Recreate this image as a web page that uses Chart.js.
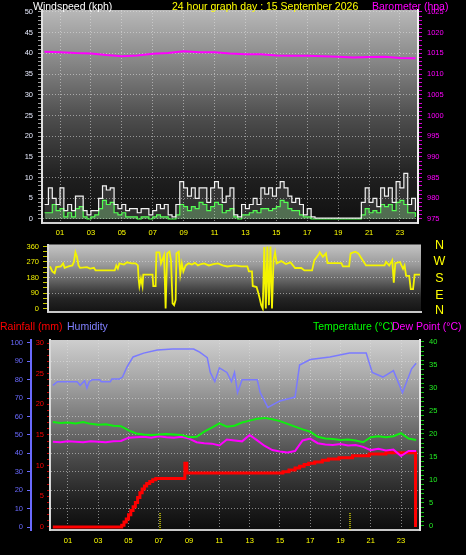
<!DOCTYPE html>
<html><head><meta charset="utf-8">
<script src="https://cdn.jsdelivr.net/npm/chart.js@4/dist/chart.umd.min.js"></script>
<style>
html,body{margin:0;padding:0;background:#000;}
#wrap{position:relative;width:466px;height:555px;overflow:hidden;background:#000;font-family:'Liberation Sans',Arial,sans-serif;}
canvas{position:absolute;left:0;}
.t{position:absolute;font-size:10.5px;white-space:nowrap;line-height:1;}
.d{position:absolute;left:432px;width:15px;text-align:center;font-size:12.5px;line-height:1;color:#ffff00;}
</style></head><body>
<div id="wrap">
<canvas id="c1" width="466" height="240" style="top:0px"></canvas>
<canvas id="c2" width="466" height="84" style="top:236px"></canvas>
<canvas id="c3" width="466" height="235" style="top:320px"></canvas>
<span class="t" style="left:33px;top:1px;color:#ffffff">Windspeed (kph)</span>
<span class="t" style="left:172px;top:1px;color:#ffff00">24 hour graph day : 15 September 2026</span>
<span class="t" style="left:372px;top:1px;color:#ff00ff">Barometer (hpa)</span>
<span class="d" style="top:239px">N</span>
<span class="d" style="top:255px">W</span>
<span class="d" style="top:272px">S</span>
<span class="d" style="top:289px">E</span>
<span class="d" style="top:304px">N</span>
<span class="t" style="left:0px;top:321px;color:#ff0000">Rainfall (mm)</span>
<span class="t" style="left:67px;top:321px;color:#8080ff">Humidity</span>
<span class="t" style="left:313px;top:321px;color:#00ff00">Temperature (°C)</span>
<span class="t" style="left:392px;top:321px;color:#ff00ff">Dew Point (°C)</span>
</div>
<script>
// ---------- tick labels / categories ----------
const xTickHours  = [1,3,5,7,9,11,13,15,17,19,21,23];
const xTickLabels = ['01','03','05','07','09','11','13','15','17','19','21','23'];
const windLabels  = [0,5,10,15,20,25,30,35,40,45,50];
const baroLabels  = [975,980,985,990,995,1000,1005,1010,1015,1020,1025];
const dirLabels   = [0,90,180,270,360];
const humLabels   = [0,10,20,30,40,50,60,70,80,90,100];
const rainLabels  = [0,5,10,15,20,25,30];
const tempLabels  = [0,5,10,15,20,25,30,35,40];

// ---------- wind (kph), one value every 15 minutes from 00:00 to 24:00 ----------
const windGust = [3.5,7.5,5,3.5,7.5,2,3.5,2,5.5,5.5, 2,1,2,2,5,8,7,7.5,3.5,2.5,
  3.5,2,2.5,2.5,1.5,2.5,2.5,1,2,3.5, 2.5,3.5,1,0.5,3.5,9,7.5,5.5,7.5,5,
  7.5,7.5,4,7.5,9,7.5,4,5.5,7.5,1, 0.5,3.5,2.5,3.5,5,3.5,7.5,6,7.5,5.5,
  7.5,9,7.5,5.5,4,5,3.5,1,2.5,0.5, 0.2,0.2,0.2,0.2,0.2,0.2,0.2,0.2,0.2,0.2,
  0.2,0.2,4,7.5,4,5,3,7.5,5.5,7.5, 4,9,7.5,11,3.5,5,2];
const windSpeed = [1.5,1.5,3.5,2,2.5,0.5,1.5,0.5,2.5,3, 0.5,0,0.5,1,2.5,4.5,3.5,4,1.5,1,
  1.5,0.5,0.5,0.5,0,0.5,0.5,0,0.5,1, 0.5,0.5,0,0,1,3.5,3,2,3,2.5,
  4,3.5,2,3,4,3.5,1.5,2,2.5,0.5, 0,1,1,1.5,2,1.5,2.5,2.5,2,2.5,
  3,4.5,4,2.5,2,2,1,0.5,0.5,0, 0,0,0,0,0,0,0,0,0,0,
  0,0,1,2.5,1.5,2,1.5,3.5,3,3.5, 2,4,4.5,3.5,1.5,1.5,0.5];
const windHours = windGust.map((_, i) => i / 4);

// ---------- barometer (hPa), hourly ----------
const baroHours  = [0,1,2,3,4,5,6,7,8,9,10,11,12,13,14,15,16,17,18,19,20,21,22,23,24];
const baroValues = [1015.4,1015.3,1015.1,1015.0,1014.6,1014.3,1014.5,1014.9,1015.1,1015.5,1015.3,1015.3,
  1015.0,1014.8,1014.8,1014.5,1014.4,1014.4,1014.3,1014.2,1014.0,1014.1,1014.2,1013.9,1013.8];

// ---------- wind direction (degrees) ----------
const dirHours = [0,0.15,0.3,0.4,0.7,0.85,0.95,1.2,1.45,1.55,1.65,1.75,1.85,1.95,2.4,2.6,2.85,2.95,4.2,4.3,
  4.4,4.5,4.8,5.0,5.3,5.55,5.7,5.75,5.8,5.9,6.0,6.05,6.65,6.7,6.85,6.9,7.1,7.2,7.4,7.5,
  7.6,7.75,7.85,7.95,8.05,8.15,8.2,8.35,8.45,8.55,8.65,8.8,9.0,9.2,9.4,9.6,9.8,10.0,10.3,10.6,
  10.9,11.2,11.5,12.0,12.4,12.8,12.9,13.1,13.15,13.4,13.5,13.6,13.7,13.8,13.9,14.0,14.1,14.2,14.3,14.4,
  14.5,14.6,14.7,15.0,15.3,15.6,15.9,16.3,16.5,17.0,17.15,17.4,17.5,17.7,17.9,18.0,18.9,19.0,19.4,19.5,
  19.8,20.0,20.2,20.5,21.7,21.8,22.0,22.2,22.3,22.4,22.7,22.9,23.0,23.1,23.3,23.4,23.55,23.65,24.0];
const dirValues = [244,215,205,240,244,262,236,244,250,270,326,300,250,236,240,232,236,221,221,250,
  232,262,255,268,262,262,250,170,130,175,130,197,197,130,130,326,326,262,310,0,
  320,330,280,30,20,50,320,330,200,262,215,250,262,255,265,250,258,262,250,258,
  262,250,244,250,244,244,216,216,131,125,95,60,20,0,356,0,360,20,360,0,
  281,326,262,275,258,268,235,235,221,221,281,310,326,300,320,263,263,244,244,320,
  330,320,292,250,250,270,250,280,150,263,270,230,250,190,190,113,113,197,197];

// ---------- humidity (%) ----------
const humHours  = [0,0.3,0.9,1.6,1.8,2.1,2.25,2.4,2.6,3.1, 3.2,3.8,3.9,4.4,4.6,4.9,5.3,6.0,6.9,7.9,
  9.3,9.7,10.2,10.4,10.7,11.0,11.5,11.8,12.0,12.2, 12.5,13.5,13.7,14.2,15.0,16.0,16.3,17.0,18.3,19.6,
  20.7,21.1,21.8,22.5,23.1,23.7,24.0];
const humValues = [77,79,79,79,77,79.5,75.5,79,80,80, 79,79,80.5,80.5,81.5,87,92.4,94.5,96.2,96.7,
  96.7,95,92,84,79,86.5,84,79,84,73, 80,80,73,65,68.5,70.6,88,91,92.4,94.5,
  94.5,84,81.5,85,73,86,89];

// ---------- temperature & dew point (°C), every 30 minutes ----------
const tdHours = [0,0.5,1,1.5,2,2.5,3,3.5,4,4.5,5,5.5,6,6.5,7,7.5,8,8.5,9,9.5,10,10.5,11,11.5,12,
  12.5,13,13.5,14,14.5,15,15.5,16,16.5,17,17.5,18,18.5,19,19.5,20,20.5,21,21.5,22,22.5,23,23.5,24];
const tempValues = [22.6,22.4,22.5,22.3,22.6,22.2,22.0,22.1,21.8,21.7, 20.8,20.1,19.9,19.8,19.9,20.0,19.9,19.8,19.3,19.4,
  20.5,21.4,22.3,21.6,21.8,22.5,22.9,23.3,23.5,23.2, 22.8,22.2,21.6,21.0,20.5,19.4,19.0,18.9,18.7,18.8,
  18.6,18.2,19.3,19.5,19.3,19.5,20.2,19.0,18.7];
const dewValues = [18.3,18.2,18.4,18.3,18.2,18.4,18.3,18.2,18.4,18.5, 19.2,19.3,19.4,19.2,19.5,19.3,19.2,19.4,19.0,18.2,
  18.0,17.9,17.5,18.8,18.6,18.4,19.8,18.6,17.4,16.5, 16.2,16.0,16.3,18.6,19.0,18.0,17.7,17.6,17.8,17.5,
  17.6,17.2,16.5,16.8,16.4,16.6,15.2,16.3,16.3];

// ---------- rainfall (mm, cumulative) ----------
const rainHours  = [0,4.55,4.7,4.85,5.0,5.15,5.3,5.45,5.6,5.75, 5.9,6.05,6.2,6.4,6.6,6.8,8.72,8.85,15.2,15.6,
  16.0,16.3,16.6,16.9,17.3,17.8,18.2,18.9,19.8,20.9, 22.0,23.96];
const rainValues = [0,0.3,0.8,1.3,2.0,2.7,3.3,4.0,4.8,5.6, 6.2,6.7,7.1,7.4,7.7,7.9,10.4,8.8,9.0,9.3,
  9.6,9.9,10.2,10.4,10.6,10.9,11.1,11.3,11.6,11.9, 12.1,0];
const sunHours = [7.08, 19.63];   // sunrise / sunset markers

// ---------- helpers ----------
const FONT = "'Liberation Sans', Arial, sans-serif";
const FS = 7.5;
const GRID = 'rgba(225,225,225,0.55)';
const NONE = 'rgba(0,0,0,0)';
function pts(xs, ys) { return xs.map((x, i) => ({x: x, y: ys[i]})); }
function range(a, b, s) { const r = []; for (let v = a; v <= b + 1e-9; v += s) r.push(Math.round(v * 100) / 100); return r; }

const bgPlugin = {
  id: 'bg',
  beforeDraw(chart, args, opts) {
    const {ctx, chartArea: a} = chart;
    const g = ctx.createLinearGradient(0, a.top, 0, a.bottom);
    opts.stops.forEach(s => g.addColorStop(s[0], s[1]));
    ctx.save();
    ctx.fillStyle = g;
    ctx.fillRect(a.left, a.top, a.right - a.left, a.bottom - a.top);
    ctx.restore();
  }
};

function xAxis(o) {
  return {
    type: 'linear', position: 'bottom', min: o.min, max: o.max, display: true,
    afterBuildTicks: s => { s.ticks = xTickHours.map(v => ({value: v})); },
    afterFit: s => { s.height = o.height; },
    ticks: {display: o.labels, autoSkip: false, maxRotation: 0, color: '#ffff00', padding: o.pad,
      font: {family: FONT, size: FS}, callback: v => xTickLabels[xTickHours.indexOf(v)]},
    grid: {display: true, drawOnChartArea: o.grid, drawTicks: false, color: GRID, lineWidth: 1},
    border: {display: true, color: o.borderColor, width: 2, dash: [1, 2]}
  };
}
function yAxis(o) {
  return {
    type: 'linear', position: o.pos, min: o.min, max: o.max, weight: o.weight || 0,
    afterBuildTicks: s => { s.ticks = o.all.map(v => ({value: v})); },
    afterFit: s => { s.width = o.width; },
    ticks: {autoSkip: false, color: o.color, padding: o.pad, font: {family: FONT, size: FS},
      callback: v => (o.labels.indexOf(v) >= 0 ? String(v) : '')},
    grid: {display: true, drawOnChartArea: !!o.grid, drawTicks: true, tickLength: o.tickLen,
      tickColor: o.tickColor, lineWidth: 1,
      color: c => (o.grid && o.grid.indexOf(c.tick.value) >= 0 ? GRID : NONE)},
    border: {display: true, color: o.borderColor, width: o.borderWidth, dash: [1, 2]}
  };
}
const base = {
  responsive: false, animation: false, events: [], devicePixelRatio: 1,
  elements: {point: {radius: 0}, line: {tension: 0}}
};

// ---------- chart 1 : wind speed + barometer ----------
new Chart(document.getElementById('c1'), {
  type: 'line',
  plugins: [bgPlugin],
  data: {datasets: [
    {data: pts(windHours, windGust), yAxisID: 'yW', borderColor: '#f2f2f2', borderWidth: 1.2, stepped: true,
      fill: 'origin', backgroundColor: 'rgba(255,255,255,0.12)'},
    {data: pts(windHours, windSpeed), yAxisID: 'yW', borderColor: '#3cff3c', borderWidth: 1.2, stepped: true,
      fill: 'origin', backgroundColor: 'rgba(150,255,150,0.3)'},
    {data: pts(baroHours, baroValues), yAxisID: 'yB', borderColor: '#ff00ff', borderWidth: 2}
  ]},
  options: Object.assign({}, base, {
    layout: {padding: {top: 10, left: 0, right: 0, bottom: 0}},
    plugins: {legend: {display: false}, tooltip: {enabled: false},
      bg: {stops: [[0, '#b8b8b8'], [0.25, '#858585'], [0.5, '#4e4e4e'], [0.8, '#1e1e1e'], [1, '#101010']]}},
    scales: {
      x: xAxis({min: -0.165, max: 24.165, height: 17, pad: 5, labels: true, grid: true, borderColor: '#d0d0d0'}),
      yW: yAxis({pos: 'left', min: -0.97, max: 50.48, width: 42, all: range(0, 50, 1), labels: windLabels,
        grid: windLabels, color: '#e8ecff', pad: 5, tickLen: 4, tickColor: '#9a9a9a',
        borderColor: '#e0e0e0', borderWidth: 2}),
      yB: yAxis({pos: 'right', min: 974.03, max: 1025.48, width: 48, all: range(975, 1025, 1), labels: baroLabels,
        grid: null, color: '#ff00ff', pad: 5, tickLen: 4, tickColor: '#d000d0',
        borderColor: '#f0f0f0', borderWidth: 2})
    }
  })
});

// ---------- chart 2 : wind direction ----------
new Chart(document.getElementById('c2'), {
  type: 'line',
  plugins: [bgPlugin],
  data: {datasets: [
    {data: pts(dirHours, dirValues), yAxisID: 'yD', borderColor: '#f4f400', borderWidth: 1.8}
  ]},
  options: Object.assign({}, base, {
    layout: {padding: {top: 8, left: 0, right: 45, bottom: 0}},
    plugins: {legend: {display: false}, tooltip: {enabled: false},
      bg: {stops: [[0, '#c4c4c4'], [0.3, '#9a9a9a'], [0.55, '#606060'], [0.8, '#252525'], [1, '#141414']]}},
    scales: {
      x: xAxis({min: -0.13, max: 24.065, height: 7, pad: 0, labels: false, grid: false, borderColor: '#c8c8c8'}),
      yD: yAxis({pos: 'left', min: -16.9, max: 371.25, width: 48, all: range(0, 360, 30), labels: dirLabels,
        grid: [90, 180, 270], color: '#f0f000', pad: 4, tickLen: 5, tickColor: '#c8c800',
        borderColor: '#d8d8d8', borderWidth: 2})
    }
  })
});

// ---------- chart 3 : rain, humidity, temperature, dew point ----------
const sunSets = sunHours.map(h => ({data: [{x: h, y: -0.49}, {x: h, y: 2.4}], yAxisID: 'yR',
  borderColor: '#ffff00', borderWidth: 1.2, borderDash: [1, 1]}));
new Chart(document.getElementById('c3'), {
  type: 'line',
  plugins: [bgPlugin],
  data: {datasets: [
    {data: pts(humHours, humValues), yAxisID: 'yH', borderColor: '#7a7aff', borderWidth: 1.5},
    {data: pts(tdHours, tempValues), yAxisID: 'yT', borderColor: '#10ee10', borderWidth: 2},
    {data: pts(tdHours, dewValues), yAxisID: 'yT', borderColor: '#ff00ff', borderWidth: 2},
    {data: pts(rainHours, rainValues), yAxisID: 'yR', borderColor: '#ff0000', borderWidth: 3, stepped: true}
  ].concat(sunSets)},
  options: Object.assign({}, base, {
    layout: {padding: {top: 20, left: 0, right: 0, bottom: 0}},
    plugins: {legend: {display: false}, tooltip: {enabled: false},
      bg: {stops: [[0, '#cecece'], [0.2, '#a8a8a8'], [0.42, '#787878'], [0.63, '#484848'], [0.85, '#202020'], [1, '#0c0c0c']]}},
    scales: {
      x: xAxis({min: -0.189, max: 24.255, height: 25, pad: 6, labels: true, grid: true, borderColor: '#c8c8c8'}),
      yH: yAxis({pos: 'left', weight: 2, min: -1.63, max: 101.63, width: 31, all: humLabels, labels: humLabels,
        grid: humLabels.slice(1, 10), color: '#6a6aff', pad: 4, tickLen: 4, tickColor: '#6a6aff',
        borderColor: '#6a6aff', borderWidth: 2}),
      yR: yAxis({pos: 'left', weight: 1, min: -0.49, max: 30.49, width: 19, all: range(0, 30, 1), labels: rainLabels,
        grid: null, color: '#ff0000', pad: 3, tickLen: 3, tickColor: '#c00000',
        borderColor: '#d8d8d8', borderWidth: 2}),
      yT: yAxis({pos: 'right', min: -0.87, max: 40.43, width: 46, all: range(0, 40, 1), labels: tempLabels,
        grid: null, color: '#22ee22', pad: 5, tickLen: 4, tickColor: '#10c010',
        borderColor: '#e8e8e8', borderWidth: 2})
    }
  })
});
</script>
</body></html>
